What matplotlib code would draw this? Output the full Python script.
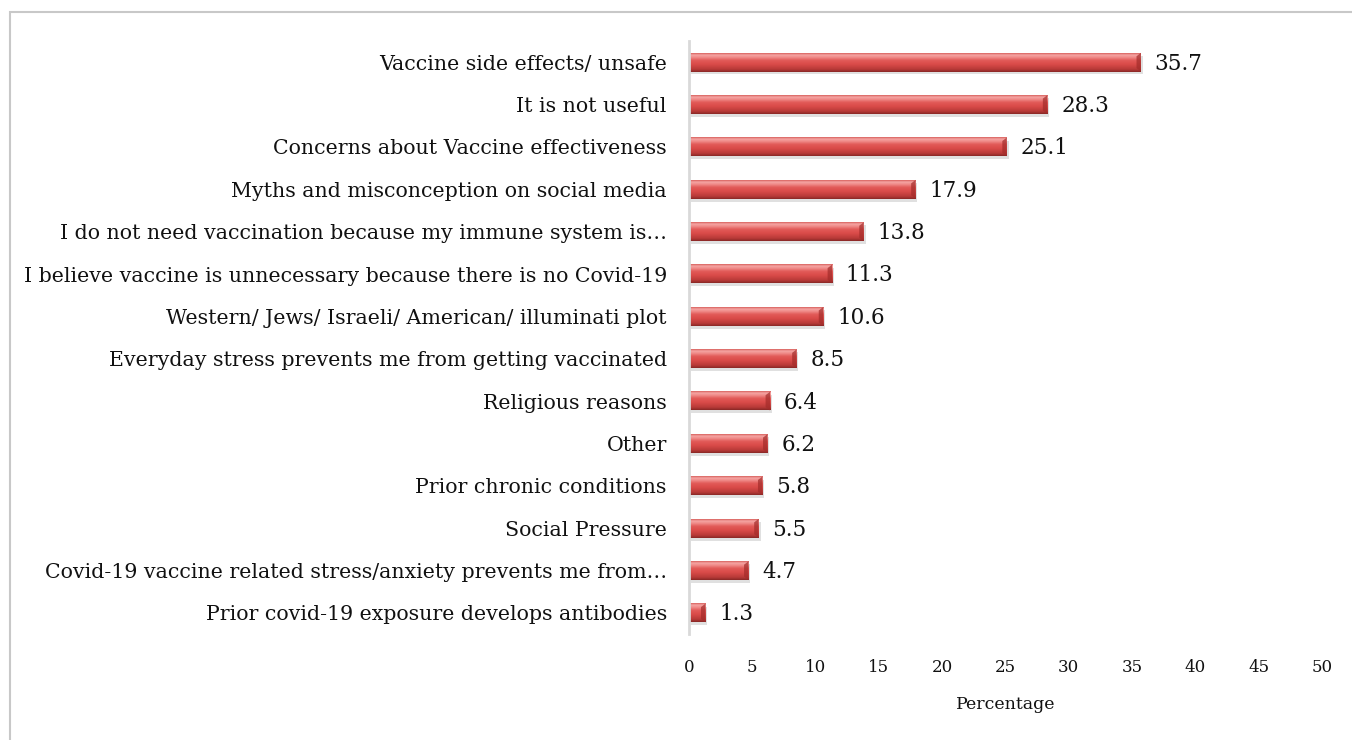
import numpy as np
import matplotlib
matplotlib.use("Agg")
import matplotlib.pyplot as plt
from matplotlib.colors import LinearSegmentedColormap
from matplotlib.patches import Rectangle, Polygon

categories = [
    "Vaccine side effects/ unsafe",
    "It is not useful",
    "Concerns about Vaccine effectiveness",
    "Myths and misconception on social media",
    "I do not need vaccination because my immune system is\u2026",
    "I believe vaccine is unnecessary because there is no Covid-19",
    "Western/ Jews/ Israeli/ American/ illuminati plot",
    "Everyday stress prevents me from getting vaccinated",
    "Religious reasons",
    "Other",
    "Prior chronic conditions",
    "Social Pressure",
    "Covid-19 vaccine related stress/anxiety prevents me from\u2026",
    "Prior covid-19 exposure develops antibodies",
]
values = [35.7, 28.3, 25.1, 17.9, 13.8, 11.3, 10.6, 8.5, 6.4, 6.2, 5.8, 5.5, 4.7, 1.3]
x_ticks = [0, 5, 10, 15, 20, 25, 30, 35, 40, 45, 50]
x_label = "Percentage"

plt.rcParams["font.family"] = ["DejaVu Serif", "Liberation Serif"]

fig = plt.figure(figsize=(13.52, 7.4), dpi=100)
ax = fig.add_axes([0.5096, 0.143, 0.4682, 0.8016])

# outer chart frame (top and left edges visible)
fig.add_artist(Rectangle((10 / 1352, -0.1), 1.2, 1 - 12 / 740 + 0.1,
                         transform=fig.transFigure, fill=False,
                         edgecolor="#C8C8C8", linewidth=1.5))

# vertical shading for the bevelled bars: light top, red body, dark bottom
bar_cmap = LinearSegmentedColormap.from_list(
    "bevel", [(0.0, "#8A2826"), (0.14, "#B83A38"), (0.42, "#DB4C4A"),
              (0.62, "#E25A58"), (0.78, "#EF8A88"), (0.9, "#F5A6A4"),
              (1.0, "#D9625F")])
grad = np.linspace(0, 1, 64).reshape(-1, 1)

h = 0.44
ypos = np.arange(len(values))
for y, v in zip(ypos, values):
    # soft drop shadow
    ax.add_patch(Rectangle((0.15, y - h / 2 + 0.07), v, h, facecolor="#000000",
                           alpha=0.12, edgecolor="none", zorder=1))
    ax.imshow(grad, cmap=bar_cmap, aspect="auto", origin="lower",
              extent=(0, v, y + h / 2, y - h / 2), zorder=2,
              interpolation="bilinear")
    # darker bevelled end cap
    cap = min(0.35, v * 0.3)
    ax.add_patch(Polygon([(v - cap, y - h / 2 + 0.08), (v, y - h / 2),
                          (v, y + h / 2), (v - cap, y + h / 2 - 0.08)],
                         closed=True, facecolor="#A32C2A", alpha=0.7,
                         edgecolor="none", zorder=3))
    ax.annotate(f"{v}", xy=(v, y), xytext=(10, -1), textcoords="offset points",
                ha="left", va="center", fontsize=15.5, color="#111111")

ax.set_xlim(0, 50)
ax.set_ylim(len(values) - 0.5, -0.5)
ax.set_yticks(ypos)
ax.set_yticklabels(categories, fontsize=14.8, color="#111111")
ax.set_xticks(x_ticks)
ax.set_xticklabels([str(t) for t in x_ticks], fontsize=12, color="#111111")
ax.tick_params(axis="both", length=0)
ax.tick_params(axis="y", pad=16)
ax.tick_params(axis="x", pad=18)
ax.set_xlabel(x_label, fontsize=12.5, labelpad=14, color="#111111")

for s in ["top", "right", "bottom"]:
    ax.spines[s].set_visible(False)
ax.spines["left"].set_color("#D9D9D9")
ax.spines["left"].set_linewidth(2)

fig.savefig("out.png", dpi=100)
